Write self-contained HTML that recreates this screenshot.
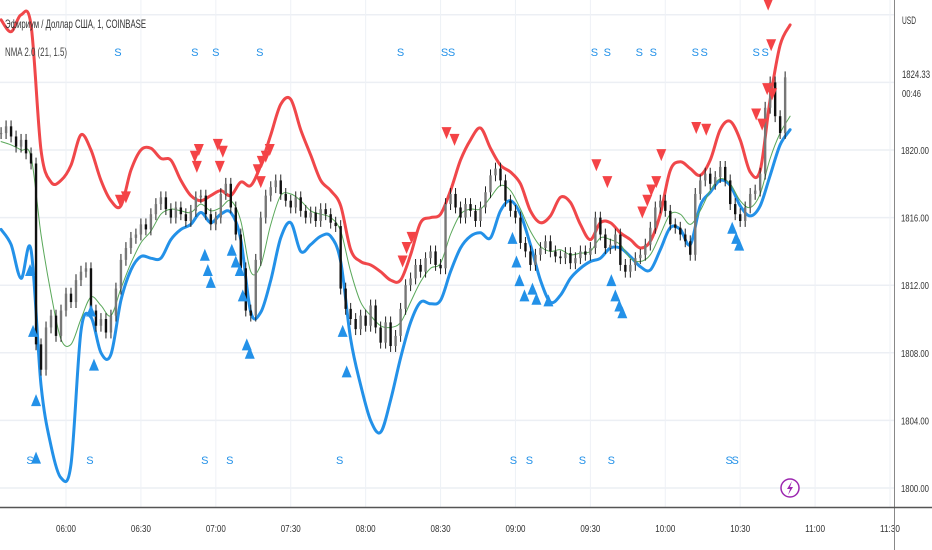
<!DOCTYPE html>
<html><head><meta charset="utf-8"><style>
html,body{margin:0;padding:0;background:#fff;}
svg{display:block;font-family:"Liberation Sans","Noto Sans CJK SC",sans-serif;}
</style></head><body>
<svg id="chart" width="932" height="550" viewBox="0 0 932 550">
<g id="grid"></g>
<g id="bands"></g>
<g id="candles"></g>
<g id="markers"></g>
<g id="axes"></g>
<text x="5" y="28" font-size="12" fill="#333" textLength="141" lengthAdjust="spacingAndGlyphs">Эфириум / Доллар США, 1, COINBASE</text>
<text x="5" y="56" font-size="12" fill="#444" textLength="62" lengthAdjust="spacingAndGlyphs">NMA 2.0 (21, 1.5)</text>
<line x1="894.5" y1="0" x2="894.5" y2="550" stroke="#888" stroke-width="1"/>
<line x1="0" y1="507.5" x2="932" y2="507.5" stroke="#555" stroke-width="1.5"/>
<text x="902" y="24" font-size="11" fill="#333" textLength="14" lengthAdjust="spacingAndGlyphs">USD</text>
<rect x="896" y="64" width="36" height="38" fill="#fff"/>
<text x="902" y="78" font-size="11" fill="#333" textLength="28" lengthAdjust="spacingAndGlyphs">1824.33</text>
<text x="902" y="97" font-size="10" fill="#333" textLength="19" lengthAdjust="spacingAndGlyphs">00:46</text>
<g>
<circle cx="790" cy="488" r="9" fill="#fff" stroke="#9c27b0" stroke-width="1.5"/>
<path d="M792 481 L787 489 L790 489 L788 495 L793 487 L790 487 Z" fill="#9c27b0"/>
</g>
</svg>
<script>
const priceTicks=[1800,1804,1808,1812,1816,1820,1824,1828];
const priceTickLabels=["1800.00","1804.00","1808.00","1812.00","1816.00","1820.00","",""];
const timeTicks=[0,30,60,90,120,150,180,210,240,270,300,330];
const timeTickLabels=["06:00","06:30","07:00","07:30","08:00","08:30","09:00","09:30","10:00","10:30","11:00","11:30"];
const candleStart=-26, candleStep=2;
const closes=[1821.0,1821.4,1820.8,1820.2,1820.6,1819.8,1819.2,1808.5,1807.0,1809.5,1810.2,1809.0,1810.5,1811.5,1811.0,1812.3,1812.8,1813.0,1810.5,1809.6,1810.0,1809.2,1810.2,1811.8,1813.5,1814.2,1814.8,1815.0,1815.6,1815.3,1816.2,1816.8,1817.2,1816.5,1816.0,1816.6,1816.2,1815.8,1816.4,1817.2,1817.3,1816.2,1815.6,1816.0,1817.4,1818.0,1816.6,1815.0,1813.0,1810.5,1810.2,1813.5,1816.0,1817.3,1817.8,1818.2,1817.4,1817.0,1816.6,1817.2,1816.4,1816.0,1816.3,1815.8,1816.5,1816.2,1815.7,1815.5,1811.8,1810.6,1810.0,1809.4,1810.2,1809.6,1810.8,1809.5,1808.6,1809.8,1808.4,1809.0,1810.6,1812.0,1812.4,1813.2,1812.8,1813.6,1814.0,1813.2,1813.0,1816.8,1817.4,1816.6,1816.0,1816.8,1816.4,1815.8,1816.6,1817.5,1818.5,1818.9,1818.2,1817.0,1816.4,1816.0,1814.5,1814.0,1813.2,1813.8,1814.2,1814.6,1814.0,1813.7,1813.6,1813.9,1813.3,1813.6,1814.0,1813.8,1814.2,1816.0,1815.0,1814.2,1814.4,1815.0,1813.2,1812.8,1813.2,1813.6,1813.8,1814.4,1815.4,1816.6,1817.0,1816.4,1815.6,1815.4,1815.0,1814.6,1813.8,1817.4,1818.2,1818.6,1818.0,1818.4,1819.0,1818.2,1816.8,1816.2,1815.8,1816.6,1817.4,1817.6,1818.6,1822.5,1824.0,1822.0,1821.0,1824.3];
const bandStart=-26, bandStep=4;
const upperBand=[1827.7,1827.0,1828.0,1827.4,1820.0,1818.1,1818.2,1819.1,1820.9,1820.0,1818.2,1817.0,1816.7,1818.8,1820.0,1820.1,1819.5,1819.4,1818.2,1817.3,1817.0,1817.3,1817.6,1817.3,1818.1,1817.9,1819.1,1820.9,1822.7,1823.0,1821.2,1819.7,1818.2,1817.6,1816.7,1814.1,1813.4,1813.2,1812.8,1812.3,1812.3,1813.8,1815.7,1816.0,1816.2,1817.6,1819.4,1820.6,1821.3,1820.1,1819.1,1818.7,1818.0,1816.4,1815.7,1816.1,1817.2,1816.9,1815.6,1814.7,1815.7,1815.7,1815.1,1814.7,1814.2,1814.6,1816.2,1818.8,1819.3,1818.9,1818.5,1819.4,1821.2,1821.7,1820.6,1818.7,1818.8,1823.0,1826.2,1827.4];
const lowerBand=[1815.3,1814.4,1812.4,1814.1,1806.1,1802.5,1800.6,1801.4,1809.3,1810.1,1808.0,1807.9,1811.1,1812.9,1813.7,1813.6,1813.6,1814.7,1815.3,1815.6,1816.3,1815.7,1816.2,1816.3,1814.7,1810.4,1810.4,1812.3,1814.8,1815.7,1814.0,1814.4,1814.9,1814.9,1813.4,1808.8,1806.1,1804.0,1803.3,1805.2,1807.7,1809.8,1811.0,1810.9,1811.1,1812.8,1814.2,1814.9,1815.1,1814.8,1816.4,1817.0,1816.2,1814.4,1812.3,1811.0,1811.4,1812.4,1813.0,1813.4,1813.6,1814.2,1814.2,1813.7,1813.1,1812.9,1814.1,1815.4,1815.3,1814.4,1816.7,1817.5,1818.2,1817.9,1816.7,1816.1,1816.7,1818.5,1820.3,1821.2];
const midLine=[1820.5,1820.3,1820.0,1819.6,1815.0,1811.5,1808.8,1808.5,1810.0,1811.3,1810.8,1810.2,1811.8,1813.3,1814.5,1815.2,1816.2,1816.5,1816.4,1816.3,1816.8,1816.4,1816.6,1817.0,1815.8,1812.8,1813.2,1815.6,1817.3,1817.4,1817.0,1816.4,1816.2,1816.0,1815.2,1812.8,1811.0,1810.2,1809.6,1809.5,1809.8,1811.0,1812.2,1813.0,1813.3,1815.0,1816.2,1816.5,1816.5,1817.2,1817.9,1817.6,1816.5,1815.2,1814.3,1814.0,1814.1,1813.8,1813.9,1814.0,1814.8,1814.7,1814.4,1813.6,1813.4,1813.8,1815.0,1816.2,1816.2,1815.6,1816.4,1817.6,1818.3,1818.0,1817.0,1816.6,1817.4,1819.5,1821.0,1822.0];
const sellTimes=[21.6,24,51.6,53.2,52.4,60.8,62.8,61.6,76.8,78.4,80,81.6,78,134.8,136.4,138.4,152.4,155.6,212.4,216.8,230.8,232.8,234.4,236.4,238.4,252.4,256.4,276.4,278.8,280.8,282.4,281.2,282.8];
const sellPrices=[1817.0,1817.2,1819.6,1820.0,1819.0,1820.3,1819.9,1819.0,1818.8,1819.3,1819.6,1820.0,1818.1,1813.4,1814.2,1814.8,1821.0,1820.6,1819.1,1818.1,1816.3,1817.0,1817.6,1818.1,1819.7,1821.3,1821.2,1822.1,1821.5,1823.6,1826.2,1828.6,1823.3];
const buyTimes=[-14.4,-13.2,-12,-12,10,11.2,55.6,56.8,58,66.4,68,69.6,70.8,72.4,73.6,110.8,112.4,178.8,180.4,181.6,183.6,186.8,188.4,193.2,218.4,220,221.6,222.8,266.8,268.4,269.6];
const buyPrices=[1812.9,1809.3,1805.2,1801.8,1810.5,1807.3,1813.8,1812.9,1812.2,1814.1,1813.4,1812.9,1811.4,1808.5,1808.0,1809.3,1806.9,1814.8,1813.4,1812.3,1811.4,1811.8,1811.2,1811.1,1812.3,1811.4,1810.8,1810.4,1815.4,1814.8,1814.4];
const topSTimes=[20.8,51.6,60,77.6,134,151.6,154.4,211.6,216.8,229.6,235.2,252,255.6,276.4,280];
const bottomSTimes=[-14.4,9.6,55.6,65.6,109.6,179.2,185.6,206.8,218.4,265.6,268];

const NS="http://www.w3.org/2000/svg";
function xScale(m){return 66+m*2.497;}
function yScale(p){return 150+(1820-p)*16.9;}
function mk(tag,attrs,parent){const e=document.createElementNS(NS,tag);for(const k in attrs)e.setAttribute(k,attrs[k]);parent.appendChild(e);return e;}
const grid=document.getElementById('grid'),axes=document.getElementById('axes');
priceTicks.forEach((p,i)=>{
  const l=mk('line',{x1:0,x2:894,y1:yScale(p),y2:yScale(p),stroke:'#eceff4','stroke-width':1.5},grid);
  
  
  if(priceTickLabels[i]){
    const t=mk('text',{x:901,y:yScale(p)+4,'font-size':10.5,fill:'#333',textLength:28,lengthAdjust:'spacingAndGlyphs'},axes);t.textContent=priceTickLabels[i];
    
    
  }
});
timeTicks.forEach((m,i)=>{
  const x=xScale(m);
  if(x<894){const l=mk('line',{x1:x,x2:x,y1:0,y2:507,stroke:'#eef1f6','stroke-width':1},grid);
  
  }
  const t=mk('text',{x:x-10,y:532,'font-size':10.5,fill:'#333',textLength:20,lengthAdjust:'spacingAndGlyphs'},axes);t.textContent=timeTickLabels[i];
  
  
});
const bands=document.getElementById('bands');
function smoothPath(pts){
  let d='M'+pts[0][0].toFixed(1)+','+pts[0][1].toFixed(1);
  for(let i=0;i<pts.length-1;i++){
    const p0=pts[Math.max(0,i-1)],p1=pts[i],p2=pts[i+1],p3=pts[Math.min(pts.length-1,i+2)];
    const c1x=p1[0]+(p2[0]-p0[0])/6,c1y=p1[1]+(p2[1]-p0[1])/6;
    const c2x=p2[0]-(p3[0]-p1[0])/6,c2y=p2[1]-(p3[1]-p1[1])/6;
    d+=` C${c1x.toFixed(1)},${c1y.toFixed(1)} ${c2x.toFixed(1)},${c2y.toFixed(1)} ${p2[0].toFixed(1)},${p2[1].toFixed(1)}`;
  }
  return d;
}
function line(arr,color,w,name){
  const pts=arr.map((v,i)=>[xScale(bandStart+i*bandStep),yScale(v)]);
  const pl=mk('path',{d:smoothPath(pts),fill:'none',stroke:color,'stroke-width':w,'stroke-linejoin':'round','stroke-linecap':'round'},bands);
  
  
}
line(upperBand,'#f0474a',3,'upper-band');
line(lowerBand,'#2391e8',3,'lower-band');
line(midLine,'#5aa85a',1,'nma-line');
const cg=document.getElementById('candles');
closes.forEach((c,i)=>{
  const o=i>0?closes[i-1]:c;
  const x=xScale(candleStart+i*candleStep);
  const hi=Math.max(o,c)+0.35,lo=Math.min(o,c)-0.35;
  const w=mk('line',{x1:x,x2:x,y1:yScale(hi),y2:yScale(lo),stroke:'#222','stroke-width':1},cg);
  
  
  const top=yScale(Math.max(o,c)),h=Math.max(1,yScale(Math.min(o,c))-top);
  const b=mk('rect',{x:x-1.2,y:top,width:2.4,height:h,fill:c>=o?'#777':'#111'},cg);
  
  
});
const mg=document.getElementById('markers');
sellTimes.forEach((m,i)=>{
  const x=xScale(m),y=yScale(sellPrices[i]);
  const t=mk('polygon',{points:`${x-5},${y-6} ${x+5},${y-6} ${x},${y+6}`,fill:'#f44346'},mg);
  
  
});
buyTimes.forEach((m,i)=>{
  const x=xScale(m),y=yScale(buyPrices[i]);
  const t=mk('polygon',{points:`${x-5},${y+6} ${x+5},${y+6} ${x},${y-6}`,fill:'#2391e8'},mg);
  
  
});
topSTimes.forEach(m=>{
  const t=mk('text',{x:xScale(m),y:56,'font-size':11,fill:'#2391e8','text-anchor':'middle'},mg);t.textContent='S';
  
  
});
bottomSTimes.forEach(m=>{
  const t=mk('text',{x:xScale(m),y:464,'font-size':11,fill:'#2391e8','text-anchor':'middle'},mg);t.textContent='S';
  
  
});
</script>
</body></html>
